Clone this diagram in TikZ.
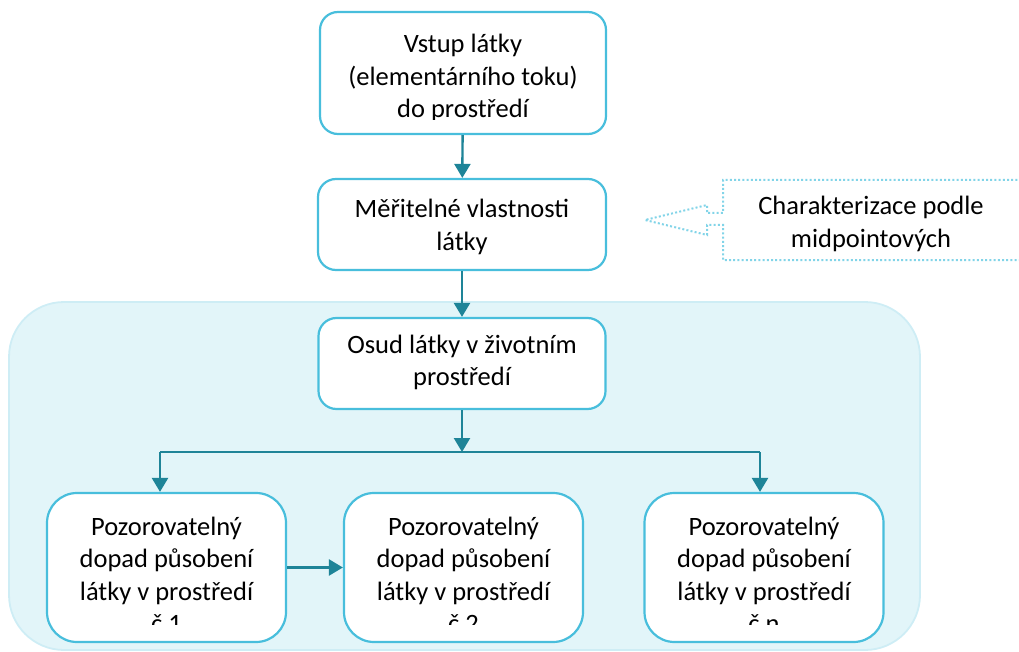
\documentclass[tikz,border=0pt]{standalone}
\usepackage{fontspec}
\setmainfont{Carlito}
\usetikzlibrary{arrows.meta}
\definecolor{boxline}{RGB}{72,190,220}
\definecolor{arrowc}{RGB}{30,132,152}
\definecolor{bgfill}{RGB}{226,245,249}
\definecolor{bgline}{RGB}{206,237,245}
\definecolor{dotc}{RGB}{130,212,232}
\tikzset{
  stepbox/.style={draw=boxline, line width=2.2pt, fill=white, rounded corners=18pt, inner sep=0pt},
  effbox/.style={stepbox, rounded corners=30pt, minimum width=239pt, minimum height=149pt},
  bgbox/.style={draw=bgline, line width=1.8pt, fill=bgfill, rounded corners=55pt, inner sep=0pt},
  conn/.style={draw=arrowc, line width=2.4pt},
  arr/.style={conn, -{Triangle[width=16pt,length=14pt]}},
  txt/.style={anchor=base, inner sep=0pt, font=\fontsize{26.5}{32.5}\selectfont},
  callout/.style={draw=dotc, line width=2pt, dash pattern=on 2pt off 2.2pt},
}
\newcommand{\lns}[1]{\begin{tabular}[t]{@{}c@{}}#1\end{tabular}}
\begin{document}
\begin{tikzpicture}[x=1pt,y=-1pt]
\useasboundingbox (0,0) rectangle (1019,652);
% background group
\node[bgbox, minimum width=911pt, minimum height=348pt] (bg) at (464.5,476) {};
% boxes
\node[stepbox, minimum width=286pt, minimum height=122pt] (A) at (463,73) {};
\node[stepbox, minimum width=288pt, minimum height=91pt] (B) at (462,224.5) {};
\node[stepbox, minimum width=287pt, minimum height=91pt] (C) at (462,363.5) {};
\node[effbox] (D1) at (166.5,567.5) {};
\node[effbox] (D2) at (463.5,567.5) {};
\node[effbox] (Dn) at (764,567.5) {};
% texts
\begin{scope}
  \clip (320,12) rectangle (606,119.5);
  \node[txt] (At) at (463,53) {\lns{Vstup látky\\(elementárního toku)\\do prostředí}};
\end{scope}
\node[txt] (Bt) at (462,218) {\lns{Měřitelné vlastnosti\\látky}};
\node[txt] (Ct) at (462,353) {\lns{Osud látky v životním\\prostředí}};
\begin{scope}
  \clip (47,493) rectangle (884,624);
  \node[txt] (D1t) at (166.5,535) {\lns{Pozorovatelný\\dopad působení\\látky v prostředí\\č 1}};
  \node[txt] (D2t) at (463.5,535) {\lns{Pozorovatelný\\dopad působení\\látky v prostředí\\č 2}};
  \node[txt] (Dnt) at (764,535) {\lns{Pozorovatelný\\dopad působení\\látky v prostředí\\č n}};
\end{scope}
% connectors
\draw[arr] (A) -- (B);
\draw[arr] (B.south) -- (C.north);
\coordinate (j) at (462,452);
\coordinate (jl) at (160,452);
\coordinate (jr) at (760,452);
\draw[arr] (C) -- (j);
\draw[conn] (jl) -- (jr);
\draw[arr] (jl) -- (jl |- D1.north);
\draw[arr] (jr) -- (jr |- Dn.north);
\draw[arr] (D1) -- (D2);
% callout
\draw[callout] (1030,180) -- (723,180) -- (723,213) -- (707,213) -- (707,205)
  -- (645,220) -- (707,235) -- (707,225) -- (723,225) -- (723,260) -- (1030,260);
\node[txt] (Ch) at (871,215) {\lns{Charakterizace podle\\midpointových}};
\end{tikzpicture}
\end{document}
